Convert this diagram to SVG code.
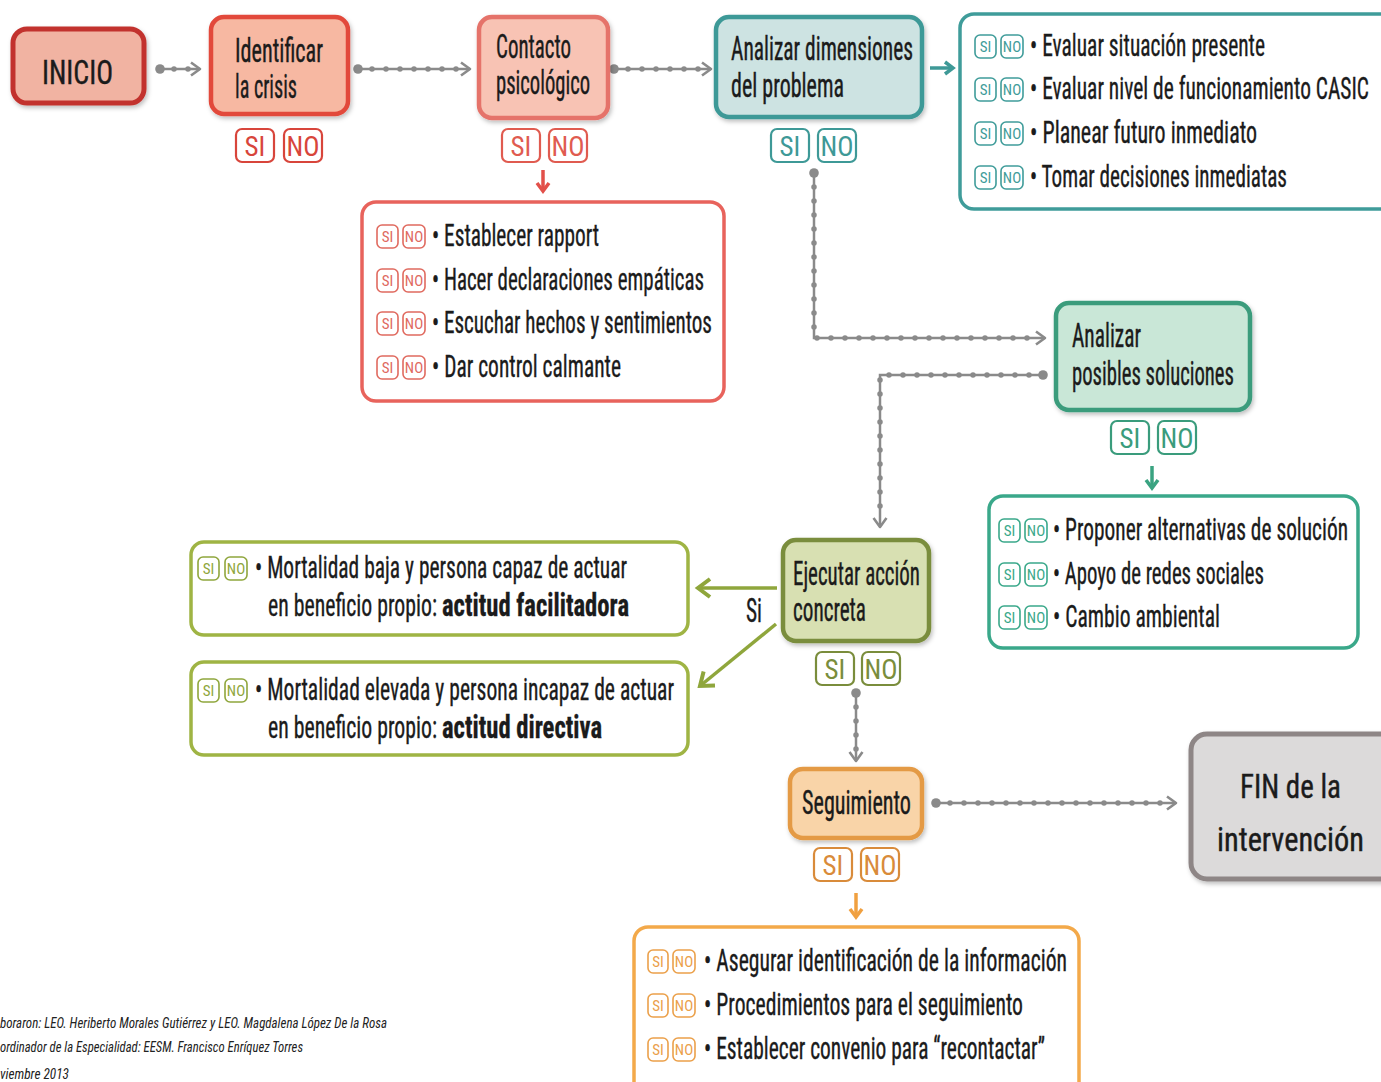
<svg xmlns="http://www.w3.org/2000/svg" width="1381" height="1082" viewBox="0 0 1381 1082">
<style>
text{font-family:"Liberation Sans Narrow","Roboto Condensed","DejaVu Sans Condensed","Liberation Sans",sans-serif;}
.title{font-size:33px;fill:#1b1b1b;stroke:#1b1b1b;stroke-width:0.4;}
.item{font-size:31px;fill:#1b1b1b;stroke:#1b1b1b;stroke-width:0.35;}
.b{font-weight:bold;}
.big{font-size:27px;text-anchor:middle;}
.sm{font-size:15px;text-anchor:middle;}
.cred{font-size:15px;font-style:italic;fill:#222;}
.node{stroke-width:4.5;}
.box{fill:#fff;stroke-width:3.5;}
.snb{fill:#fff;stroke-width:2.2;}
.sns{fill:#fff;stroke-width:1.6;}
.ln{fill:none;stroke:#8a8a8a;stroke-width:2.5;}
.dots{fill:none;stroke:#8a8a8a;stroke-width:5.5;stroke-linecap:round;stroke-dasharray:0 14;}
.ca{fill:none;stroke-width:3.5;}
</style>
<defs>
<filter id="sh" x="-10%" y="-10%" width="125%" height="130%">
<feDropShadow dx="1.5" dy="2.5" stdDeviation="2" flood-color="#000" flood-opacity="0.25"/>
</filter>
<marker id="st" markerUnits="userSpaceOnUse" markerWidth="12" markerHeight="12" refX="6" refY="6" orient="auto"><circle cx="6" cy="6" r="4.8" fill="#8a8a8a"/></marker>
<marker id="ag" markerUnits="userSpaceOnUse" markerWidth="14" markerHeight="16" refX="11" refY="8" orient="auto"><path d="M2,1.5 L11,8 L2,14.5" fill="none" stroke="#8a8a8a" stroke-width="2.6" stroke-linejoin="round"/></marker>
<marker id="ar" markerUnits="userSpaceOnUse" markerWidth="16" markerHeight="16" refX="11" refY="8" orient="auto"><path d="M3,2 L11,8 L3,14" fill="none" stroke="#e2504a" stroke-width="3.5"/></marker>
<marker id="at" markerUnits="userSpaceOnUse" markerWidth="16" markerHeight="16" refX="11" refY="8" orient="auto"><path d="M3,2 L11,8 L3,14" fill="none" stroke="#3e9997" stroke-width="3.5"/></marker>
<marker id="agr" markerUnits="userSpaceOnUse" markerWidth="16" markerHeight="16" refX="11" refY="8" orient="auto"><path d="M3,2 L11,8 L3,14" fill="none" stroke="#3aa381" stroke-width="3.5"/></marker>
<marker id="ao" markerUnits="userSpaceOnUse" markerWidth="16" markerHeight="16" refX="11" refY="8" orient="auto"><path d="M3,2 L11,8 L3,14" fill="none" stroke="#f0a040" stroke-width="3.5"/></marker>
<marker id="aol" markerUnits="userSpaceOnUse" markerWidth="20" markerHeight="22" refX="15" refY="11" orient="auto"><path d="M3,2 L15,11 L3,20" fill="none" stroke="#8fa63c" stroke-width="4"/></marker>
</defs>
<rect width="1381" height="1082" fill="#fff"/>

<g id="connectors">
<path class="ln" d="M160 69 H200" marker-start="url(#st)" marker-end="url(#ag)"/>
<path class="dots" d="M160 69 H195"/>
<path class="ln" d="M358 69 H470" marker-start="url(#st)" marker-end="url(#ag)"/>
<path class="dots" d="M358 69 H465"/>
<path class="ln" d="M614 69 H711" marker-start="url(#st)" marker-end="url(#ag)"/>
<path class="dots" d="M614 69 H706"/>
<path class="ln" d="M814 173 V338 H1045" marker-start="url(#st)" marker-end="url(#ag)"/>
<path class="dots" d="M814 173 V338 H1040"/>
<path class="ln" d="M1043 375 H880 V527" marker-start="url(#st)" marker-end="url(#ag)"/>
<path class="dots" d="M1043 375 H880 V520"/>
<path class="ln" d="M856 693 V761" marker-start="url(#st)" marker-end="url(#ag)"/>
<path class="dots" d="M856 693 V750"/>
<path class="ln" d="M936 803 H1176" marker-start="url(#st)" marker-end="url(#ag)"/>
<path class="dots" d="M936 803 H1170"/>
<path class="ca" stroke="#e2504a" d="M543 170 V191" marker-end="url(#ar)"/>
<path class="ca" stroke="#3e9997" d="M930 68 H953" marker-end="url(#at)"/>
<path class="ca" stroke="#3aa381" d="M1152 466 V488" marker-end="url(#agr)"/>
<path class="ca" stroke="#f0a040" d="M856 893 V917" marker-end="url(#ao)"/>
<path class="ca" stroke="#8fa63c" stroke-width="4" d="M777 588 H698" marker-end="url(#aol)"/>
<path class="ca" stroke="#8fa63c" stroke-width="4" d="M776 624 L700 686" marker-end="url(#aol)"/>
<text x="746" y="622" class="title" font-size="29" textLength="16" lengthAdjust="spacingAndGlyphs">Si</text>
</g>

<g id="inicio">
<rect x="13" y="29" width="131" height="74" rx="14" fill="#f1b3a2" stroke="#c2332f" stroke-width="5" filter="url(#sh)"/>
<text x="42" y="84" class="title" font-size="44" textLength="71" lengthAdjust="spacingAndGlyphs">INICIO</text>
</g>

<g id="identificar">
<rect x="211" y="17" width="137" height="97" rx="13" fill="#f7b8a2" stroke="#e2483b" class="node" filter="url(#sh)"/>
<text x="235" y="62" class="title" textLength="88" lengthAdjust="spacingAndGlyphs">Identificar</text>
<text x="235" y="98" class="title" textLength="62" lengthAdjust="spacingAndGlyphs">la crisis</text>
<rect x="236" y="129" width="38" height="33" rx="6" class="snb" stroke="#d8453b"/>
<text x="255" y="156" class="big" fill="#d8453b">SI</text>
<rect x="284" y="129" width="38" height="33" rx="6" class="snb" stroke="#d8453b"/>
<text x="303" y="156" class="big" fill="#d8453b">NO</text>
</g>

<g id="contacto">
<rect x="479" y="17" width="129" height="101" rx="13" fill="#f8c3b4" stroke="#e5736a" class="node" filter="url(#sh)"/>
<text x="496" y="58" class="title" textLength="75" lengthAdjust="spacingAndGlyphs">Contacto</text>
<text x="496" y="94" class="title" textLength="94" lengthAdjust="spacingAndGlyphs">psicológico</text>
<rect x="502" y="129" width="38" height="33" rx="6" class="snb" stroke="#e05b50"/>
<text x="521" y="156" class="big" fill="#e05b50">SI</text>
<rect x="549" y="129" width="38" height="33" rx="6" class="snb" stroke="#e05b50"/>
<text x="568" y="156" class="big" fill="#e05b50">NO</text>
</g>

<g id="lista-contacto">
<rect x="362" y="202" width="362" height="199" rx="14" class="box" stroke="#e8635c"/>
<g stroke="#e06a5f">
<rect x="377" y="225" width="21" height="23" rx="5" class="sns"/><rect x="403" y="225" width="22" height="23" rx="5" class="sns"/>
<rect x="377" y="269" width="21" height="23" rx="5" class="sns"/><rect x="403" y="269" width="22" height="23" rx="5" class="sns"/>
<rect x="377" y="312" width="21" height="23" rx="5" class="sns"/><rect x="403" y="312" width="22" height="23" rx="5" class="sns"/>
<rect x="377" y="356" width="21" height="23" rx="5" class="sns"/><rect x="403" y="356" width="22" height="23" rx="5" class="sns"/>
</g>
<g fill="#e06a5f">
<text x="387.5" y="242" class="sm">SI</text><text x="414" y="242" class="sm">NO</text>
<text x="387.5" y="286" class="sm">SI</text><text x="414" y="286" class="sm">NO</text>
<text x="387.5" y="329" class="sm">SI</text><text x="414" y="329" class="sm">NO</text>
<text x="387.5" y="373" class="sm">SI</text><text x="414" y="373" class="sm">NO</text>
</g>
<text x="432" y="246" class="item" textLength="167" lengthAdjust="spacingAndGlyphs">• Establecer rapport</text>
<text x="432" y="290" class="item" textLength="272" lengthAdjust="spacingAndGlyphs">• Hacer declaraciones empáticas</text>
<text x="432" y="333" class="item" textLength="280" lengthAdjust="spacingAndGlyphs">• Escuchar hechos y sentimientos</text>
<text x="432" y="377" class="item" textLength="189" lengthAdjust="spacingAndGlyphs">• Dar control calmante</text>
</g>

<g id="analizar-dimensiones">
<rect x="716" y="17" width="206" height="100" rx="13" fill="#cde3e2" stroke="#3e9997" class="node" filter="url(#sh)"/>
<text x="731" y="60" class="title" textLength="182" lengthAdjust="spacingAndGlyphs">Analizar dimensiones</text>
<text x="731" y="97" class="title" textLength="113" lengthAdjust="spacingAndGlyphs">del problema</text>
<rect x="771" y="129" width="38" height="33" rx="6" class="snb" stroke="#3e9997"/>
<text x="790" y="156" class="big" fill="#3e9997">SI</text>
<rect x="818" y="129" width="38" height="33" rx="6" class="snb" stroke="#3e9997"/>
<text x="837" y="156" class="big" fill="#3e9997">NO</text>
</g>

<g id="lista-dimensiones">
<rect x="960" y="14" width="440" height="195" rx="14" class="box" stroke="#3f9c9a"/>
<g stroke="#3f9c9a">
<rect x="975" y="35" width="21" height="23" rx="5" class="sns"/><rect x="1001" y="35" width="22" height="23" rx="5" class="sns"/>
<rect x="975" y="78" width="21" height="23" rx="5" class="sns"/><rect x="1001" y="78" width="22" height="23" rx="5" class="sns"/>
<rect x="975" y="122" width="21" height="23" rx="5" class="sns"/><rect x="1001" y="122" width="22" height="23" rx="5" class="sns"/>
<rect x="975" y="166" width="21" height="23" rx="5" class="sns"/><rect x="1001" y="166" width="22" height="23" rx="5" class="sns"/>
</g>
<g fill="#3f9c9a">
<text x="985.5" y="52" class="sm">SI</text><text x="1012" y="52" class="sm">NO</text>
<text x="985.5" y="95" class="sm">SI</text><text x="1012" y="95" class="sm">NO</text>
<text x="985.5" y="139" class="sm">SI</text><text x="1012" y="139" class="sm">NO</text>
<text x="985.5" y="183" class="sm">SI</text><text x="1012" y="183" class="sm">NO</text>
</g>
<text x="1030" y="56" class="item" textLength="235" lengthAdjust="spacingAndGlyphs">• Evaluar situación presente</text>
<text x="1030" y="99" class="item" textLength="339" lengthAdjust="spacingAndGlyphs">• Evaluar nivel de funcionamiento CASIC</text>
<text x="1030" y="143" class="item" textLength="227" lengthAdjust="spacingAndGlyphs">• Planear futuro inmediato</text>
<text x="1030" y="187" class="item" textLength="257" lengthAdjust="spacingAndGlyphs">• Tomar decisiones inmediatas</text>
</g>

<g id="analizar-soluciones">
<rect x="1056" y="303" width="194" height="107" rx="13" fill="#c9e7d7" stroke="#3a9c7c" class="node" filter="url(#sh)"/>
<text x="1072" y="347" class="title" textLength="69" lengthAdjust="spacingAndGlyphs">Analizar</text>
<text x="1072" y="385" class="title" textLength="162" lengthAdjust="spacingAndGlyphs">posibles soluciones</text>
<rect x="1111" y="421" width="38" height="33" rx="6" class="snb" stroke="#3a9c7c"/>
<text x="1130" y="448" class="big" fill="#3a9c7c">SI</text>
<rect x="1158" y="421" width="38" height="33" rx="6" class="snb" stroke="#3a9c7c"/>
<text x="1177" y="448" class="big" fill="#3a9c7c">NO</text>
</g>

<g id="lista-soluciones">
<rect x="989" y="496" width="369" height="152" rx="14" class="box" stroke="#3aa88a"/>
<g stroke="#3aa88a">
<rect x="999" y="519" width="21" height="23" rx="5" class="sns"/><rect x="1025" y="519" width="22" height="23" rx="5" class="sns"/>
<rect x="999" y="563" width="21" height="23" rx="5" class="sns"/><rect x="1025" y="563" width="22" height="23" rx="5" class="sns"/>
<rect x="999" y="606" width="21" height="23" rx="5" class="sns"/><rect x="1025" y="606" width="22" height="23" rx="5" class="sns"/>
</g>
<g fill="#3aa88a">
<text x="1009.5" y="536" class="sm">SI</text><text x="1036" y="536" class="sm">NO</text>
<text x="1009.5" y="580" class="sm">SI</text><text x="1036" y="580" class="sm">NO</text>
<text x="1009.5" y="623" class="sm">SI</text><text x="1036" y="623" class="sm">NO</text>
</g>
<text x="1053" y="540" class="item" textLength="295" lengthAdjust="spacingAndGlyphs">• Proponer alternativas de solución</text>
<text x="1053" y="584" class="item" textLength="211" lengthAdjust="spacingAndGlyphs">• Apoyo de redes sociales</text>
<text x="1053" y="627" class="item" textLength="167" lengthAdjust="spacingAndGlyphs">• Cambio ambiental</text>
</g>

<g id="ejecutar">
<rect x="783" y="540" width="146" height="101" rx="13" fill="#d8e0b2" stroke="#7a8d3c" class="node" filter="url(#sh)"/>
<text x="793" y="585" class="title" textLength="127" lengthAdjust="spacingAndGlyphs">Ejecutar acción</text>
<text x="793" y="621" class="title" textLength="73" lengthAdjust="spacingAndGlyphs">concreta</text>
<rect x="816" y="652" width="38" height="33" rx="6" class="snb" stroke="#7a8d3c"/>
<text x="835" y="679" class="big" fill="#7a8d3c">SI</text>
<rect x="862" y="652" width="38" height="33" rx="6" class="snb" stroke="#7a8d3c"/>
<text x="881" y="679" class="big" fill="#7a8d3c">NO</text>
</g>

<g id="actitud-facilitadora">
<rect x="191" y="542" width="497" height="93" rx="13" class="box" stroke="#9fb444"/>
<rect x="198" y="557" width="21" height="23" rx="5" class="sns" stroke="#8fa63c"/><rect x="225" y="557" width="22" height="23" rx="5" class="sns" stroke="#8fa63c"/>
<text x="208.5" y="574" class="sm" fill="#8fa63c">SI</text><text x="236" y="574" class="sm" fill="#8fa63c">NO</text>
<text x="255" y="578" class="item" textLength="372" lengthAdjust="spacingAndGlyphs">• Mortalidad baja y persona capaz de actuar</text>
<text x="268" y="616" class="item" textLength="169" lengthAdjust="spacingAndGlyphs">en beneficio propio:</text>
<text x="442" y="616" class="item b" textLength="187" lengthAdjust="spacingAndGlyphs">actitud facilitadora</text>
</g>

<g id="actitud-directiva">
<rect x="191" y="662" width="497" height="93" rx="13" class="box" stroke="#9fb444"/>
<rect x="198" y="679" width="21" height="23" rx="5" class="sns" stroke="#8fa63c"/><rect x="225" y="679" width="22" height="23" rx="5" class="sns" stroke="#8fa63c"/>
<text x="208.5" y="696" class="sm" fill="#8fa63c">SI</text><text x="236" y="696" class="sm" fill="#8fa63c">NO</text>
<text x="255" y="700" class="item" textLength="419" lengthAdjust="spacingAndGlyphs">• Mortalidad elevada y persona incapaz de actuar</text>
<text x="268" y="738" class="item" textLength="169" lengthAdjust="spacingAndGlyphs">en beneficio propio:</text>
<text x="442" y="738" class="item b" textLength="160" lengthAdjust="spacingAndGlyphs">actitud directiva</text>
</g>

<g id="seguimiento">
<rect x="790" y="769" width="132" height="69" rx="13" fill="#f9d4a8" stroke="#e49a44" class="node" filter="url(#sh)"/>
<text x="802" y="814" class="title" textLength="109" lengthAdjust="spacingAndGlyphs">Seguimiento</text>
<rect x="814" y="848" width="38" height="33" rx="6" class="snb" stroke="#d98b3a"/>
<text x="833" y="875" class="big" fill="#d98b3a">SI</text>
<rect x="861" y="848" width="38" height="33" rx="6" class="snb" stroke="#d98b3a"/>
<text x="880" y="875" class="big" fill="#d98b3a">NO</text>
</g>

<g id="lista-seguimiento">
<rect x="634" y="927" width="445" height="175" rx="14" class="box" stroke="#f3a94a"/>
<g stroke="#eba04a">
<rect x="648" y="950" width="20" height="23" rx="5" class="sns"/><rect x="673" y="950" width="22" height="23" rx="5" class="sns"/>
<rect x="648" y="994" width="20" height="23" rx="5" class="sns"/><rect x="673" y="994" width="22" height="23" rx="5" class="sns"/>
<rect x="648" y="1038" width="20" height="23" rx="5" class="sns"/><rect x="673" y="1038" width="22" height="23" rx="5" class="sns"/>
</g>
<g fill="#eba04a">
<text x="658" y="967" class="sm">SI</text><text x="684" y="967" class="sm">NO</text>
<text x="658" y="1011" class="sm">SI</text><text x="684" y="1011" class="sm">NO</text>
<text x="658" y="1055" class="sm">SI</text><text x="684" y="1055" class="sm">NO</text>
</g>
<text x="704" y="971" class="item" textLength="363" lengthAdjust="spacingAndGlyphs">• Asegurar identificación de la información</text>
<text x="704" y="1015" class="item" textLength="319" lengthAdjust="spacingAndGlyphs">• Procedimientos para el seguimiento</text>
<text x="704" y="1059" class="item" textLength="341" lengthAdjust="spacingAndGlyphs">• Establecer convenio para “recontactar”</text>
</g>

<g id="fin">
<rect x="1191" y="734" width="210" height="145" rx="16" fill="#dcdada" stroke="#8e8686" stroke-width="5" filter="url(#sh)"/>
<text x="1240" y="798" class="title" font-size="44" textLength="101" lengthAdjust="spacingAndGlyphs">FIN de la</text>
<text x="1217" y="851" class="title" font-size="44" textLength="147" lengthAdjust="spacingAndGlyphs">intervención</text>
</g>

<g id="creditos">
<text x="0" y="1028" class="cred" textLength="387" lengthAdjust="spacingAndGlyphs">boraron: LEO. Heriberto Morales Gutiérrez y LEO. Magdalena López De la Rosa</text>
<text x="0" y="1052" class="cred" textLength="303" lengthAdjust="spacingAndGlyphs">ordinador de la Especialidad: EESM. Francisco Enríquez Torres</text>
<text x="0" y="1079" class="cred" textLength="69" lengthAdjust="spacingAndGlyphs">viembre 2013</text>
</g>
</svg>
